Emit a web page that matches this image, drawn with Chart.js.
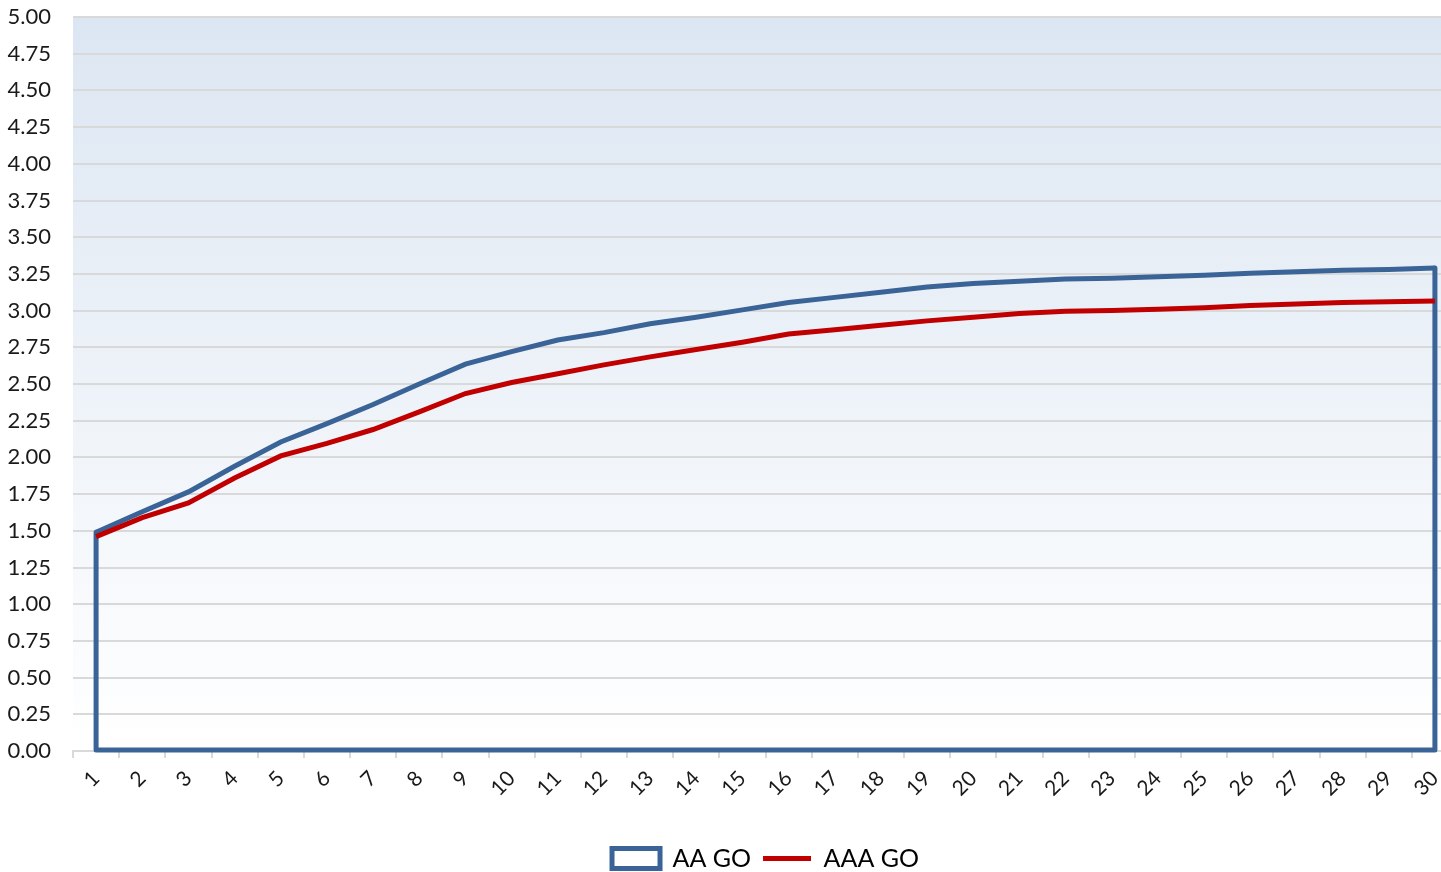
<!DOCTYPE html>
<html>
<head>
<meta charset="utf-8">
<script src="https://cdn.jsdelivr.net/npm/chart.js@4.4.1/dist/chart.umd.min.js"></script>
<style>
  html, body { margin: 0; padding: 0; background: #ffffff; overflow: hidden; }
  #wrap { position: relative; width: 1458px; height: 872px; }
</style>
</head>
<body>
<div id="wrap"><canvas id="curveChart"></canvas></div>
<script>
// Datos de la grafica
var years = ["1", "2", "3", "4", "5", "6", "7", "8", "9", "10", "11", "12", "13", "14", "15",
             "16", "17", "18", "19", "20", "21", "22", "23", "24", "25", "26", "27", "28", "29", "30"];
var aaGo = [1.49, 1.63, 1.765, 1.94, 2.105, 2.23, 2.36, 2.50, 2.635, 2.72, 2.80, 2.85, 2.91, 2.955, 3.005,
            3.055, 3.09, 3.125, 3.16, 3.185, 3.20, 3.215, 3.22, 3.23, 3.24, 3.255, 3.265, 3.275, 3.28, 3.29];
var aaaGo = [1.46, 1.59, 1.69, 1.86, 2.01, 2.095, 2.19, 2.31, 2.435, 2.51, 2.57, 2.63, 2.685, 2.735, 2.785,
             2.84, 2.87, 2.90, 2.93, 2.955, 2.98, 2.995, 3.00, 3.01, 3.02, 3.035, 3.045, 3.055, 3.06, 3.065];
var yMin = 0, yMax = 5, yStep = 0.25;

var blue = '#3a6497';
var red = '#c00000';
var font = 'Lato, "Open Sans", sans-serif';

// fondo degradado del area de la grafica
var plotBackground = {
  id: 'plotBackground',
  beforeDraw: function(chart) {
    var a = chart.chartArea, ctx = chart.ctx;
    var g = ctx.createLinearGradient(0, a.top, 0, a.bottom);
    g.addColorStop(0, '#dce6f2');
    g.addColorStop(1, '#ffffff');
    ctx.save();
    ctx.fillStyle = g;
    ctx.fillRect(a.left, a.top, a.right - a.left, a.bottom - a.top);
    ctx.restore();
  }
};

// bordes del area AA GO (lados y base)
var areaEdges = {
  id: 'areaEdges',
  beforeDatasetsDraw: function(chart) {
    var idx = chart.data.datasets.findIndex(function(d) { return d.label === 'AA GO'; });
    var pts = chart.getDatasetMeta(idx).data;
    if (!pts.length) return;
    var y0 = chart.scales.y.getPixelForValue(0) - 1;
    var first = pts[0], last = pts[pts.length - 1];
    var ctx = chart.ctx;
    ctx.save();
    ctx.strokeStyle = blue;
    ctx.lineWidth = 5;
    ctx.lineJoin = 'round';
    ctx.lineCap = 'round';
    ctx.beginPath();
    ctx.moveTo(first.x, first.y);
    ctx.lineTo(first.x, y0);
    ctx.lineTo(last.x, y0);
    ctx.lineTo(last.x, last.y);
    ctx.stroke();
    ctx.restore();
  }
};

var curveChart = new Chart(document.getElementById('curveChart'), {
  type: 'line',
  data: {
    labels: years,
    datasets: [{
      label: 'AAA GO',
      data: aaaGo,
      borderColor: red,
      backgroundColor: red,
      borderWidth: 5,
      pointRadius: 0,
      tension: 0,
      fill: false
    }, {
      label: 'AA GO',
      data: aaGo,
      borderColor: blue,
      backgroundColor: '#ffffff',
      borderWidth: 5,
      pointRadius: 0,
      tension: 0,
      fill: false
    }]
  },
  options: {
    responsive: true,
    maintainAspectRatio: false,
    animation: false,
    layout: { padding: { top: 17, left: 0, right: 0, bottom: -9 } },
    scales: {
      x: {
        offset: true,
        grid: { drawOnChartArea: false, drawTicks: true, tickLength: 7, color: '#d9d9d9', lineWidth: 2, offset: true },
        border: { display: true, color: '#d9d9d9', width: 2 },
        ticks: { minRotation: 45, maxRotation: 45, autoSkip: false, padding: 8, color: '#1a1a1a',
                 font: { family: font, size: 21 } },
        afterFit: function(scale) {
          scale.height = 83;
          scale.paddingLeft = 0;
          scale.paddingRight = 0;
        }
      },
      y: {
        min: yMin,
        max: yMax,
        grid: { color: '#d9d9d9', lineWidth: 2, drawTicks: false },
        border: { display: false },
        ticks: { stepSize: yStep, padding: 22, color: '#1a1a1a', font: { family: font, size: 22 },
                 callback: function(v) { return Number(v).toFixed(2); } },
        afterFit: function(scale) {
          scale.width = 73;
          scale.paddingTop = 0;
          scale.paddingBottom = 0;
        }
      }
    },
    plugins: {
      tooltip: { enabled: false },
      legend: {
        position: 'bottom',
        fullSize: false,
        labels: {
          usePointStyle: true,
          pointStyleWidth: 48,
          boxHeight: 20,
          padding: 12,
          color: '#000000',
          font: { family: font, size: 25 },
          generateLabels: function(chart) {
            return [
              { text: 'AA GO', fillStyle: '#ffffff', strokeStyle: blue, lineWidth: 5, pointStyle: 'rect', datasetIndex: 1, hidden: false },
              { text: 'AAA GO', fillStyle: red, strokeStyle: red, lineWidth: 5, pointStyle: 'line', datasetIndex: 0, hidden: false }
            ];
          }
        }
      }
    }
  },
  plugins: [plotBackground, areaEdges]
});
</script>
</body>
</html>
